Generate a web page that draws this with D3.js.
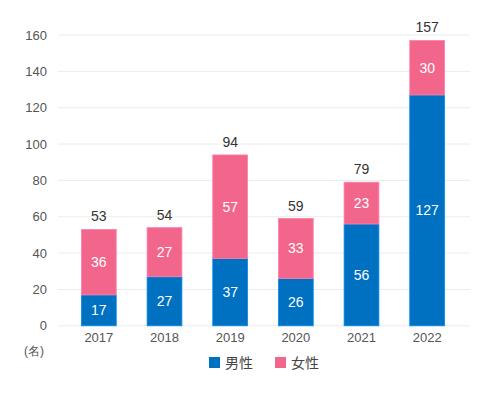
<!DOCTYPE html>
<html><head><meta charset="utf-8">
<script src="https://cdn.jsdelivr.net/npm/d3@7"></script>
<style>body{margin:0;background:#fff}svg{display:block;font-family:"Liberation Sans",Arial,sans-serif}</style>
</head><body><svg id="c" width="500" height="400"></svg>
<script>
const years = ["2017","2018","2019","2020","2021","2022"];
const male = [17,27,37,26,56,127];
const female = [36,27,57,33,23,30];
const totals = [53,54,94,59,79,157];
const yTicks = [0,20,40,60,80,100,120,140,160];
const seriesNames = ["男性","女性"];
const colors = ["#0071c1","#f2668b"];

const svg = d3.select("#c");
const x = d3.scaleBand().domain(years).range([66,460]).paddingInner(0.47).paddingOuter(0.235);
const y = d3.scaleLinear().domain([0,160]).range([325.8,35]);

// grid
svg.append("g").selectAll("line").data(yTicks).join("line")
  .attr("x1",58).attr("x2",470).attr("y1",d=>y(d)).attr("y2",d=>y(d))
  .attr("stroke","#ebebeb").attr("stroke-width",1);

const yAxis = d3.axisLeft(y).tickValues(yTicks).tickSize(0).tickPadding(0);
const gy = svg.append("g").attr("transform","translate(47,0)").call(yAxis);
gy.select(".domain").remove();
gy.selectAll("text").attr("font-size",13).attr("fill","#555").attr("font-family","Liberation Sans, Arial, sans-serif");

const xAxis = d3.axisBottom(x).tickSize(0).tickPadding(0);
const gx = svg.append("g").attr("transform","translate(0,333)").call(xAxis);
gx.select(".domain").remove();
gx.selectAll("text").attr("font-size",13).attr("fill","#555").attr("font-family","Liberation Sans, Arial, sans-serif");

svg.append("text").attr("x",34).attr("y",355).attr("text-anchor","middle")
  .attr("font-size",12).attr("fill","#555").text("(名)");

const data = years.map((yr,i)=>({year:yr,男性:male[i],女性:female[i]}));
const stack = d3.stack().keys(seriesNames)(data);

stack.forEach((s,si)=>{
  const g = svg.append("g");
  g.selectAll("rect").data(s).join("rect")
    .attr("x",d=>x(d.data.year)).attr("width",x.bandwidth())
    .attr("y",d=>y(d[1])).attr("height",d=>y(d[0])-y(d[1]))
    .attr("fill",colors[si]).attr("stroke",d3.color(colors[si]).brighter(0.6)).attr("stroke-width",0.8);
  g.selectAll("text").data(s).join("text")
    .attr("x",d=>x(d.data.year)+x.bandwidth()/2)
    .attr("y",d=>(y(d[0])+y(d[1]))/2)
    .attr("dy","0.35em").attr("text-anchor","middle")
    .attr("font-size",14).attr("fill","#fff")
    .text(d=>d[1]-d[0]);
});

svg.append("g").selectAll("text").data(years).join("text")
  .attr("x",d=>x(d)+x.bandwidth()/2)
  .attr("y",(d,i)=>y(totals[i])-8)
  .attr("text-anchor","middle").attr("font-size",14).attr("fill","#333")
  .text((d,i)=>totals[i]);

// legend
const leg = svg.append("g");
const lx = [209,275];
seriesNames.forEach((n,i)=>{
  leg.append("rect").attr("x",lx[i]).attr("y",357).attr("width",11).attr("height",11).attr("fill",colors[i]);
  leg.append("text").attr("x",lx[i]+16).attr("y",367.5).attr("font-size",14).attr("fill","#444")
    .attr("font-family","Noto Sans CJK JP, sans-serif").text(n);
});
</script></body></html>
